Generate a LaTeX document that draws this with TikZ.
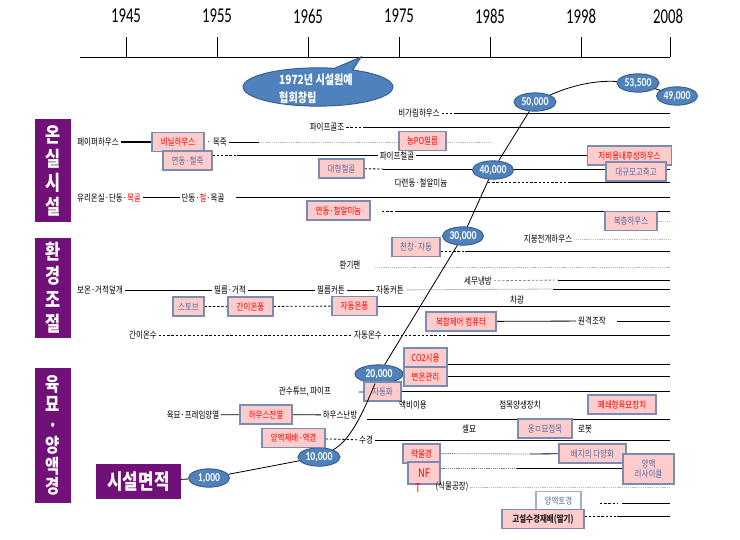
\documentclass[tikz,border=0pt]{standalone}
\usepackage{fontspec}
\setmainfont[FakeStretch=0.8]{Noto Sans CJK KR}
\newfontfamily\calib[FakeStretch=0.8]{Carlito}
\newfontfamily\yearfont[FakeStretch=0.7]{Carlito}
\usetikzlibrary{shapes.geometric,shapes.callouts,backgrounds}
\definecolor{pinkfill}{RGB}{255,204,204}
\definecolor{boxline}{RGB}{122,140,182}
\definecolor{bluetxt}{RGB}{84,106,160}
\definecolor{catpurple}{RGB}{112,16,120}
\definecolor{numfill}{RGB}{79,129,189}
\definecolor{numline}{RGB}{56,93,138}
\definecolor{hotred}{RGB}{255,0,0}

\tikzset{
  lbl/.style={inner sep=1.5pt, font=\fontsize{8}{9}\selectfont},
  pbox/.style={draw=boxline, fill=pinkfill, line width=0.9pt, inner sep=1pt,
    minimum height=0.57cm, font=\fontsize{8}{9}\selectfont},
  rbox/.style={pbox, text=hotred, minimum width=#1*0.03cm},
  bbox/.style={pbox, text=bluetxt, minimum width=#1*0.03cm},
  catbox/.style={fill=catpurple, text=white, align=center, inner sep=0pt,
    font=\fontsize{17.5}{20.5}\selectfont\bfseries},
  num/.style={ellipse, fill=numfill, draw=numline, line width=0.8pt, text=white,
    inner sep=0pt, minimum width=#1*0.03cm, minimum height=0.55cm,
    font=\calib\bfseries\fontsize{10.3}{11}\selectfont},
  solidln/.style={line width=0.7pt},
  dashln/.style={line width=0.7pt, dash pattern=on 2pt off 1.6pt},
  dotln/.style={line width=0.7pt, gray!50, dash pattern=on 1pt off 0.6pt},
}

\begin{document}
\begin{tikzpicture}[x=0.03cm, y=-0.03cm]
  \useasboundingbox (0,0) rectangle (740,539);
  \coordinate (rt) at (670,0);

  % time axis
  \coordinate (ax0) at (80,57); \coordinate (ax1) at (670,57);
  \foreach \yr/\px in {1945/126,1955/217,1965/308,1975/399,1985/490,1998/581,2008/668}
    \node[font=\yearfont\fontsize{18}{19}\selectfont] (y\yr) at (\px,16) {\yr};

  \coordinate (ptr) at (361,57);
  \node[ellipse callout, callout absolute pointer=(ptr), fill=numfill, draw=numline, line width=0.8pt,
    minimum width=4.5cm, minimum height=1.15cm] (clt) at (318,87) {};
  \node[text=white, align=left, font=\fontsize{10.8}{15}\selectfont\bfseries] (cltx) at (316,89) {1972년 시설원예\\협회창립};

  % categories
  \node[catbox, minimum width=1.08cm, minimum height=3.09cm] (cat1) at (53,170.5) {온\\실\\시\\설};
  \node[catbox, minimum width=1.08cm, minimum height=3.0cm] (cat2) at (53,288) {환\\경\\조\\절};
  \node[catbox, minimum width=1.08cm, minimum height=4.05cm, font=\fontsize{16.5}{17.5}\selectfont\bfseries] (cat3) at (53,435.5) {육\\묘\\·\\양\\액\\경};
  \node[catbox, minimum width=2.55cm, minimum height=1.05cm, font=\fontsize{18}{20}\selectfont\bfseries] (sm) at (138.5,481.5) {시설면적};

  % area curve
  \node[num=41] (n1000) at (209,478) {1,000};
  \node[num=42] (n10000) at (319,457) {10,000};
  \node[num=48] (n20000) at (379,374) {20,000};
  \node[num=41] (n30000) at (463,236) {30,000};
  \node[num=41] (n40000) at (493,170) {40,000};
  \node[num=42] (n50000) at (535,102) {50,000};
  \node[num=42] (n53500) at (638,83) {53,500};
  \node[num=41] (n49000) at (677,96) {49,000};

  % greenhouse rows
  \node[lbl] (bgr) at (419,113) {비가림하우스};
  \node[lbl] (pgj) at (327,127) {파이프골조};
  \node[lbl] (ppr) at (98,142) {페이퍼하우스};
  \node[rbox=52] (vnl) at (178,142) {비닐하우스};
  \node[lbl, anchor=west] (mjk) at (205,142) {· 목죽};
  \node[rbox=47] (npo) at (422.5,141) {농PO필름};
  \node[bbox=49] (yjc) at (187.5,160.5) {연동·철죽};
  \node[lbl] (pcg) at (397,155.5) {파이프철골};
  \node[rbox=84] (jby) at (629.5,155.5) {저비용내후성하우스};
  \node[bbox=45] (dhc) at (341.5,168.5) {대형철골};
  \node[bbox=60] (dgm) at (636,171.5) {대규모고축고};
  \node[lbl] (djd) at (421,183) {다련동·철알미늄};
  \node[lbl] (yrd) at (109,197.5) {유리온실·단동·\textcolor{hotred}{목골}};
  \node[lbl] (ddc) at (203,197.5) {단동·\textcolor{hotred}{철}·목골};
  \node[rbox=63] (yca) at (338.5,210.5) {연동·철알미늄};
  \node[bbox=52] (bch) at (631,221) {복층하우스};

  % climate control rows
  \node[lbl] (jbj) at (548,239) {지붕전개하우스};
  \node[bbox=48] (ccj) at (416,247) {천창·자동};
  \node[lbl] (hgp) at (350,265) {환기팬};
  \node[lbl] (smn) at (478,281) {세무냉방};
  \node[lbl] (bog) at (100,290) {보온·거적덮개};
  \node[lbl] (pgz) at (230,290) {필름·거적};
  \node[lbl] (pck) at (331,290) {필름커튼};
  \node[lbl] (ack) at (390,290) {자동커튼};
  \node[bbox=31] (stv) at (188.5,306.5) {스토브};
  \node[rbox=45] (gop) at (250.5,306.5) {간이온풍};
  \node[rbox=45] (aop) at (354.5,306) {자동온풍};
  \node[lbl] (cgw) at (517,300) {차광};
  \node[rbox=70] (bhj) at (461,321.5) {복합제어 컴퓨터};
  \node[lbl] (wgj) at (592,321) {원격조작};
  \node[lbl] (gos) at (143,335) {간이온수};
  \node[lbl] (aos) at (368,335) {자동온수};

  % nursery / hydroponics rows
  \node[rbox=43] (co2) at (425.5,357.5) {CO2시용};
  \node[rbox=43] (byg) at (425.5,376.5) {변온관리};
  \node[lbl] (gst) at (305,392) {관수튜브, 파이프};
  \node[bbox=37] (jdh) at (382.5,391.5) {자동화};
  \node[lbl] (abi) at (413,405) {액비이용};
  \node[lbl] (jmy) at (520,405) {접목양생장치};
  \node[rbox=68] (pss) at (622,404.5) {폐쇄형육묘장치};
  \node[lbl] (ypy) at (193,415) {육묘·프레임양열};
  \node[rbox=52] (hsj) at (266,414.5) {하우스전열};
  \node[lbl] (hsn) at (340,415) {하우스난방};
  \node[lbl] (slm) at (469,429) {셀묘};
  \node[bbox=54] (omj) at (545,428.5) {옹ㅁ묘접목};
  \node[lbl] (rbt) at (585,429) {로봇};
  \node[rbox=63] (yjy) at (293.5,438) {양액재배·역경};
  \node[lbl] (sgy) at (366,440) {수경};
  \node[rbox=37] (rwg) at (421.5,453.5) {락울경};
  \node[bbox=67] (bjd) at (592.5,453.5) {배지의 다양화};
  \node[pbox, minimum width=0.96cm, minimum height=0.66cm, text=hotred, font=\fontsize{10}{10}\selectfont] (nft) at (424,473) {NF};
  \node[text=hotred, inner sep=0pt, font=\fontsize{10}{10}\selectfont] (nftt) at (418,488) {T};
  \node[bbox=51, minimum height=0.9cm, align=center] (yrs) at (648.5,469) {양액\\리사이클};
  \node[lbl] (smg) at (452,487) {(식물공장)};
  \node[bbox=45, fill=white, draw=boxline!70] (ytg) at (558.5,501) {양액토경};
  \node[pbox, minimum width=2.46cm, text=black!85, font=\fontsize{8}{9}\selectfont\bfseries] (gsj) at (543,519) {고설수경재배(딸기)};

  \draw[solidln] (sm) -- (n1000) -- (n10000) .. controls (352,440) and (366,405) .. (n20000)
    -- (n30000) -- (n40000) -- (n50000) .. controls (570,86) and (595,80) .. (n53500) -- (n49000);

  \begin{pgfonlayer}{background}
    \fill[white] (0,0) rectangle (740,539);
    \draw[solidln] (ax0) -- (ax1);
    \foreach \px in {126,217,308,399,490,581,670}
      \draw[solidln] (\px,37) -- (\px,57);
    % greenhouse
    \coordinate (a1) at (456,113); \coordinate (b1) at (363,127);
    \coordinate (c1) at (259,142); \coordinate (c2) at (490,142);
    \coordinate (d1) at (237,155.5); \coordinate (e1) at (383,169);
    \coordinate (f1) at (488,182); \coordinate (f2) at (570,182);
    \coordinate (g1) at (236,197); \coordinate (h1) at (382,211); \coordinate (h2) at (397,211);
    \draw[dashln] (bgr) -- (a1); \draw[solidln] (a1) -- (a1 -| rt);
    \draw[dashln] (pgj) -- (b1); \draw[solidln] (b1) -- (b1 -| rt);
    \draw[line width=1.5pt] (ppr) -- (vnl);
    \draw[solidln] (mjk) -- (c1); \draw[dotln] (c1) -- (c2);
    \draw[dashln] (yjc.east |- d1) -- (d1); \draw[solidln] (d1) -- (pcg) -- (jby);
    \draw[dashln] (dhc) -- (e1); \draw[solidln] (e1) -- (e1 -| rt);
    \draw[dashln] (f1) -- (f2); \draw[solidln] (f2) -- (f2 -| rt);
    \draw[solidln] (yrd) -- (ddc); \draw[solidln] (g1) -- (g1 -| rt);
    \draw[dashln] (h1) -- (h2); \draw[solidln] (h2) -- (h2 -| rt);
    \draw[dotln] (bch) -- (bch -| rt);
    % climate control
    \coordinate (j1) at (465,251); \coordinate (k1) at (375,267);
    \coordinate (l1) at (558,280); \coordinate (m1) at (553,289);
    \coordinate (o1) at (617,321); \coordinate (p1) at (447,335);
    \draw[dotln] (jbj) -- (jbj -| rt);
    \draw[dashln] (ccj.east |- j1) -- (j1); \draw[solidln] (j1) -- (j1 -| rt);
    \draw[dotln] (k1) -- (k1 -| rt);
    \draw[dashln, gray] (smn) -- (l1); \draw[solidln] (l1) -- (l1 -| rt);
    \draw[solidln] (bog) -- (pgz) -- (pck) -- (ack);
    \draw[solidln, gray!50] (ack) -- (m1); \draw[solidln] (m1) -- (m1 -| rt);
    \draw[dashln] (stv) -- (gop) -- (aop);
    \draw[solidln] (aop) -- (aop -| rt);
    \draw[solidln] (bhj) -- (wgj); \draw[solidln] (o1) -- (o1 -| rt);
    \draw[dashln] (gos) -- (aos) -- (p1); \draw[solidln] (p1) -- (p1 -| rt);
    % nursery / hydroponics
    \coordinate (q1) at (447,364); \coordinate (r1) at (359,392);
    \coordinate (s1) at (367,419); \coordinate (u1) at (530,454);
    \coordinate (v1) at (517,468); \coordinate (t1) at (600,503);
    \coordinate (t2) at (617,503); \coordinate (t3) at (622,503);
    \coordinate (w1) at (617,516);
    \draw[solidln] (q1) -- (q1 -| rt);
    \draw[solidln] (byg) -- (byg -| rt);
    \draw[solidln] (r1) -- (jdh); \draw[solidln] (jdh) -- (jdh -| rt);
    \draw[solidln] (ypy) -- (hsj) -- (hsn);
    \draw[solidln] (s1) -- (s1 -| rt);
    \draw[dashln] (yjy) -- (sgy); \draw[solidln] (sgy) -- (sgy -| rt);
    \draw[dotln, gray] (rwg) -- (u1); \draw[solidln] (u1) -- (bjd);
    \draw[dotln, gray] (nft.east |- v1) -- (v1); \draw[solidln] (v1) -- (yrs.west |- v1);
    \draw[dotln] (smg) -- (smg -| rt);
    \draw[dashln] (t1) -- (t2); \draw[solidln] (t3) -- (t3 -| rt);
    \draw[dashln] (gsj.east |- w1) -- (w1); \draw[solidln] (w1) -- (w1 -| rt);
  \end{pgfonlayer}
\end{tikzpicture}
\end{document}
